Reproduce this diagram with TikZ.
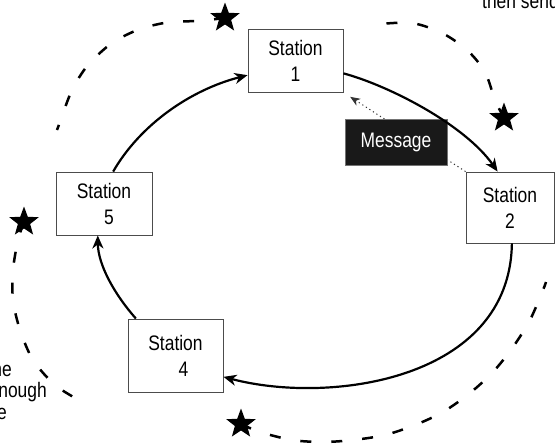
\documentclass[tikz,border=0pt]{standalone}
\usepackage{fontspec}
\setmainfont[FakeStretch=0.83]{Liberation Sans}
\usetikzlibrary{arrows.meta,shapes.geometric}
\begin{document}
\begin{tikzpicture}[x=1pt,y=-1pt,
  station/.style={draw=black!70, line width=0.9pt, fill=white, align=center,
    font=\fontsize{21}{26}\selectfont, inner sep=0pt},
  msg/.style={draw=black!55, line width=0.9pt, fill=black!90, text=white,
    font=\fontsize{21}{25}\selectfont, minimum width=102pt, minimum height=46pt, inner sep=0pt},
  link/.style={line width=2.2pt, -{Stealth[length=13pt,width=11pt,inset=4pt]}},
  hop/.style={line width=1pt, black!80, dash pattern=on 1.2pt off 3pt,
    -{Stealth[length=10pt,width=8pt,inset=3pt]}},
  ring/.style={line width=2.5pt, dash pattern=on 11pt off 20pt},
  token/.style={star, star points=5, star point ratio=2.4, fill=black,
    minimum size=31pt, inner sep=0pt},
  note/.style={font=\fontsize{21}{25}\selectfont, inner sep=0pt}
]
\useasboundingbox (0,0) rectangle (555,445);
\clip (0,0) rectangle (555,445);

% tokens travelling round the ring
\node[token] (t1) at (241,424) {};
\node[token] (t2) at (504,118) {};
\node[token] (t3) at (225,18) {};
\node[token] (t4) at (24,222) {};

% dashed token path, one stretch behind each token
\draw[ring] plot[smooth] coordinates {(t1.center) (260,432) (292,440) (323,442) (353,440)
  (385,435) (415,425) (443,412) (470,393) (493,372) (513,347) (530,320) (543,290) (546,282)};
\draw[ring] plot[smooth] coordinates {(t2.center) (495,100) (485,72) (467,50) (442,33)
  (412,23) (378,24) (370,24)};
\draw[ring] plot[smooth] coordinates {(t3.center) (197,21) (170,22) (140,29) (112,43)
  (88,65) (72,90) (60,122) (57,130)};
\draw[ring] plot[smooth] coordinates {(t4.center) (18,240) (13,270) (13,300) (20,330)
  (33,360) (55,385) (82,402) (88,405)};

% stations
\node[station, minimum width=95pt, minimum height=63pt] (s1) at (295.5,60.5) {Station\\1};
\node[station, minimum width=88pt, minimum height=71pt] (s2) at (510,207.5) {Station\\2};
\node[station, minimum width=96pt, minimum height=63pt] (s5) at (104,203.5) {Station\\\hspace*{10pt}5};
\node[station, minimum width=95pt, minimum height=73pt] (s4) at (175.5,355.5) {Station\\\hspace*{16pt}4};

% message handed back from station 2 to station 1
\draw[hop, shorten >=8pt] (s2.north west) -- (s1.south east);
\node[msg] (m) at (396,142) {Message};

% ring links
\draw[link] (s1.-15) .. controls (390,86) and (465,125) .. (s2.109);
\draw[link] (s2.-87) .. controls (510,380) and (330,405) .. (s4.-24);
\draw[link] (s4.137) .. controls (115,295) and (98,265) .. (s5.-101);
\draw[link] (s5.74) .. controls (140,125) and (190,90) .. (s1.197);

% surrounding text
\node[note, anchor=base west] (n1) at (482,8) {then send};
\node[note, anchor=base east] (n2) at (12,376) {the};
\node[note, anchor=base east] (n3) at (47,397) {enough};
\node[note, anchor=base east] (n4) at (7,419) {the};
\end{tikzpicture}
\end{document}
